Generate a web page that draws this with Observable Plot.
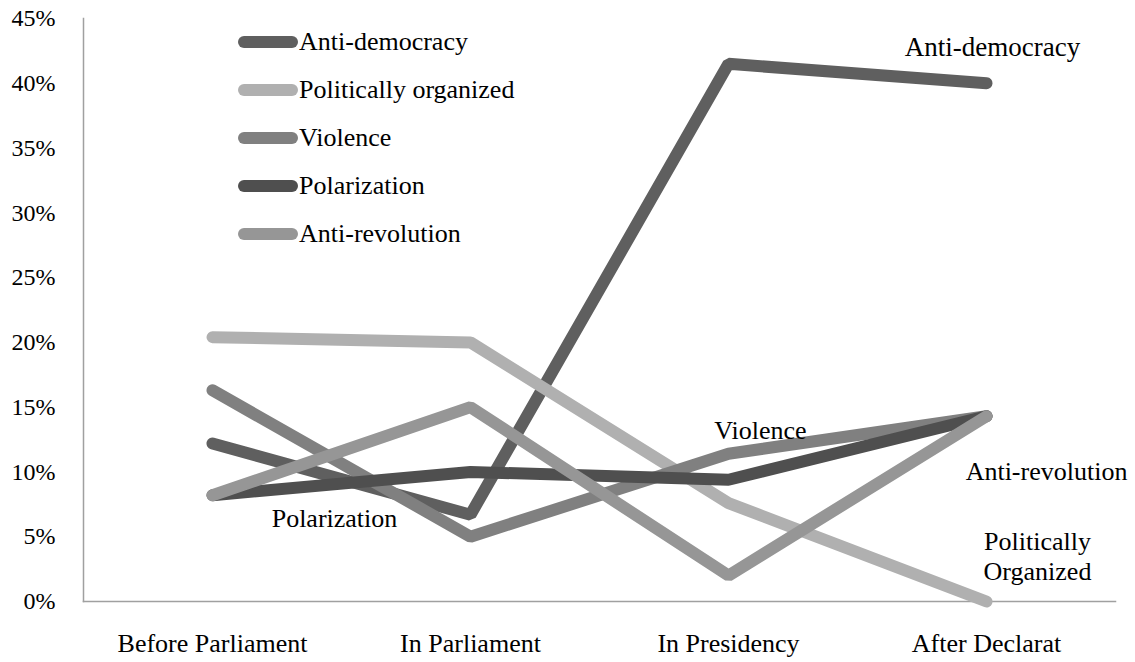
<!DOCTYPE html>
<html><head><meta charset="utf-8">
<script src="https://cdn.jsdelivr.net/npm/d3@7"></script>
<script src="https://cdn.jsdelivr.net/npm/@observablehq/plot@0.6"></script>
<style>
body{margin:0;background:#fff;font-family:"Liberation Serif","Times New Roman",serif;}
#wrap{position:relative;width:1135px;height:662px;}
#legend{position:absolute;left:238px;top:18px;}
.item{display:flex;align-items:center;height:48px;font-size:26px;color:#000;}
.sw{width:60px;height:12px;border-radius:6px;margin-right:1px}
</style></head>
<body>
<div id="wrap"><div id="legend"></div></div>
<script>
const categories = ["Before Parliament", "In Parliament", "In Presidency", "After Declarat"];
const seriesNames = ["Anti-democracy", "Politically organized", "Violence", "Polarization", "Anti-revolution"];
const antiDemocracy = [12.2, 6.7, 41.5, 40.0];
const politicallyOrganized = [20.4, 20.0, 7.6, 0.0];
const violence = [16.3, 5.0, 11.4, 14.3];
const polarization = [8.2, 10.0, 9.4, 14.3];
const antiRevolution = [8.2, 15.0, 2.0, 14.3];
const seriesColors = ["#5f5f5f", "#b0b0b0", "#808080", "#4f4f4f", "#969696"];
const yTicks = [0, 5, 10, 15, 20, 25, 30, 35, 40, 45];

const seriesValues = [antiDemocracy, politicallyOrganized, violence, polarization, antiRevolution];
const data = [];
seriesNames.forEach((s, i) => categories.forEach((c, j) => data.push({series: s, cat: c, value: seriesValues[i][j]})));
const pick = (s, c) => data.filter(d => d.series === s && d.cat === c);

const font = {fontFamily: "Liberation Serif, Times New Roman, serif", fontSize: 26, fill: "#000"};

const chart = Plot.plot({
  width: 1135, height: 662,
  marginLeft: 83, marginRight: 20, marginTop: 18, marginBottom: 61,
  style: {fontFamily: "Liberation Serif, Times New Roman, serif", fontSize: "24px", color: "#000", background: "#fff"},
  x: {type: "point", domain: categories, padding: 0.5, label: null},
  y: {domain: [0, 45], label: null},
  color: {domain: seriesNames, range: seriesColors},
  marks: [
    Plot.axisY({ticks: yTicks, tickSize: 0, tickPadding: 28, tickFormat: d => d + "%", fontSize: 24, label: null}),
    Plot.axisX({tickSize: 0, tickPadding: 32, fontSize: 26, label: null}),
    Plot.frame({anchor: "left", stroke: "#a0a0a0", strokeWidth: 1.5}),
    Plot.frame({anchor: "bottom", stroke: "#a0a0a0", strokeWidth: 1.5}),
    Plot.line(data, {x: "cat", y: "value", z: "series", stroke: "series", strokeWidth: 12, strokeLinecap: "round", strokeLinejoin: "miter"}),
    Plot.text(pick("Anti-democracy", "After Declarat"), {x: "cat", y: "value", text: () => "Anti-democracy", dx: 6, dy: -36, ...font, fontSize: 27}),
    Plot.text(pick("Violence", "In Presidency"), {x: "cat", y: "value", text: () => "Violence", dx: 32, dy: -23, ...font}),
    Plot.text(pick("Anti-revolution", "After Declarat"), {x: "cat", y: "value", text: () => "Anti-revolution", dx: 60, dy: 55, ...font}),
    Plot.text(pick("Politically organized", "After Declarat"), {x: "cat", y: "value", text: () => "Politically\nOrganized", lineHeight: 1.15, dx: 51, dy: -46, ...font}),
    Plot.text(pick("Polarization", "Before Parliament"), {x: "cat", y: "value", text: () => "Polarization", dx: 122, dy: 23, ...font})
  ]
});
const wrap = document.getElementById("wrap");
wrap.insertBefore(chart, wrap.firstChild);

const legend = document.getElementById("legend");
seriesNames.forEach((s, i) => {
  const item = document.createElement("div");
  item.className = "item";
  const sw = document.createElement("span");
  sw.className = "sw";
  sw.style.background = seriesColors[i];
  const t = document.createElement("span");
  t.textContent = s;
  item.appendChild(sw); item.appendChild(t);
  legend.appendChild(item);
});
</script>
</body></html>
